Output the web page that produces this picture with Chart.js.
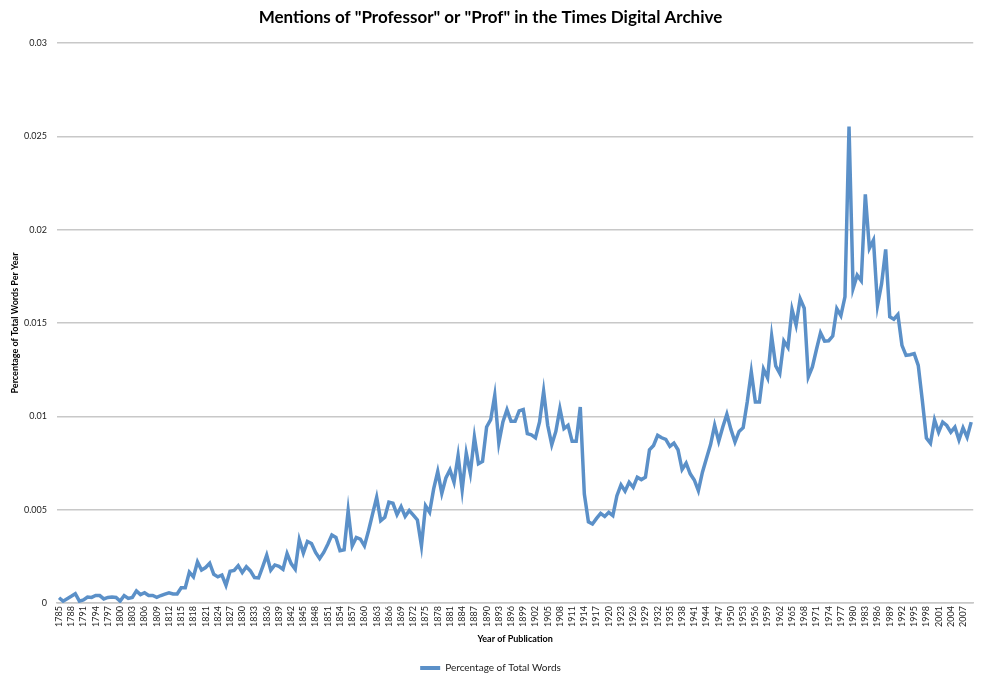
<!DOCTYPE html>
<html>
<head>
<meta charset="utf-8">
<script src="https://cdn.jsdelivr.net/npm/chart.js@4.4.1/dist/chart.umd.min.js"></script>
<style>
  html, body { margin: 0; padding: 0; background: #fff; }
  #wrap { width: 985px; height: 683px; }
</style>
</head>
<body>
<div id="wrap"><canvas id="profChart" width="985" height="683"></canvas></div>
<script>
// Year range of the archive series
const firstYear = 1785;
const lastYear = 2009;
const years = [];
for (let y = firstYear; y <= lastYear; y++) years.push(String(y));

// Percentage of total words
const values1785to1834 = [
    0.00028, 0.0001, 0.00023, 0.00036, 0.0005, 0.0001, 0.00016, 0.00032, 0.0003, 0.0004,
    0.0004, 0.00022, 0.0003, 0.00032, 0.0003, 0.0001, 0.0004, 0.00025, 0.0003, 0.00065,
    0.00045, 0.00055, 0.0004, 0.0004, 0.0003, 0.0004, 0.00048, 0.00055, 0.00048, 0.00048,
    0.00082, 0.00082, 0.00165, 0.0014, 0.0022, 0.00177, 0.0019, 0.00213, 0.00154, 0.0014,
    0.0015, 0.00095, 0.0017, 0.00175, 0.002, 0.00163, 0.00194, 0.00172, 0.00136, 0.00134
];
const values1835to1884 = [
    0.00194, 0.00256, 0.00176, 0.00204, 0.00197, 0.00181, 0.00265, 0.00211, 0.00181, 0.00339,
    0.00267, 0.0033, 0.00319, 0.00271, 0.00238, 0.00271, 0.00315, 0.00364, 0.00351, 0.0028,
    0.00285, 0.00495, 0.00306, 0.00351, 0.00342, 0.00306, 0.00387, 0.00477, 0.00566, 0.00441,
    0.00459, 0.0054, 0.00534, 0.00473, 0.00516, 0.00464, 0.00495, 0.00471, 0.00445, 0.00306,
    0.00521, 0.00486, 0.00611, 0.00704, 0.00588, 0.0067, 0.00713, 0.00647, 0.0079, 0.00606
];
const values1885to1934 = [
    0.00803, 0.00695, 0.00889, 0.00746, 0.00758, 0.00943, 0.00982, 0.01113, 0.00857, 0.0097,
    0.01036, 0.00973, 0.00973, 0.01029, 0.01036, 0.00907, 0.00901, 0.00885, 0.0097, 0.01134,
    0.00952, 0.00848, 0.00919, 0.01041, 0.00934, 0.00952, 0.00866, 0.00866, 0.0105, 0.00584,
    0.00435, 0.00423, 0.00453, 0.0048, 0.00464, 0.00486, 0.00468, 0.00575, 0.00633, 0.00599,
    0.00647, 0.0062, 0.00674, 0.00661, 0.00674, 0.00821, 0.00844, 0.00898, 0.00885, 0.00876
];
const values1935to1984 = [
    0.00839, 0.00857, 0.00821, 0.00715, 0.00749, 0.00692, 0.00659, 0.00602, 0.00701, 0.00776,
    0.00849, 0.00952, 0.00866, 0.00943, 0.01011, 0.0093, 0.00862, 0.00919, 0.00939, 0.01077,
    0.01238, 0.01077, 0.01077, 0.01253, 0.01206, 0.0143, 0.0127, 0.0123, 0.01403, 0.01369,
    0.01573, 0.01489, 0.0163, 0.01579, 0.01211, 0.01265, 0.01358, 0.01447, 0.01403, 0.01405,
    0.0143, 0.01577, 0.01539, 0.0164, 0.02553, 0.01685, 0.01756, 0.01726, 0.02189, 0.019
];
const values1985to2009 = [
    0.01944, 0.01595, 0.01711, 0.01894, 0.01533, 0.0152, 0.01545, 0.0138, 0.01327, 0.0133,
    0.01336, 0.01273, 0.01085, 0.00884, 0.00856, 0.00981, 0.00915, 0.00969, 0.00951, 0.00915,
    0.00942, 0.00874, 0.00938, 0.00888, 0.00969
];

// Y axis tick values
const yTicks = [0, 0.005, 0.01, 0.015, 0.02, 0.025, 0.03];

const seriesName = 'Percentage of Total Words';
const lineBlue = '#5b90c8';
const gridGrey = '#c8c8c8';
const font = 'Lato, "Open Sans", sans-serif';

const values = [].concat(values1785to1834, values1835to1884, values1885to1934,
    values1935to1984, values1985to2009);

const ctx = document.getElementById('profChart').getContext('2d');
new Chart(ctx, {
    type: 'line',
    data: {
        labels: years,
        datasets: [{
            label: seriesName,
            data: values,
            borderColor: lineBlue,
            backgroundColor: lineBlue,
            borderWidth: 3.5,
            pointRadius: 0,
            tension: 0,
            fill: false
        }]
    },
    options: {
        responsive: false,
        animation: false,
        layout: { padding: { left: 0, right: 4, top: 0, bottom: 0 } },
        plugins: {
            title: {
                display: true,
                text: 'Mentions of "Professor" or "Prof" in the Times Digital Archive',
                color: '#000',
                font: { family: font, size: 17, weight: 'bold' },
                padding: { top: 7, bottom: 15.6 }
            },
            legend: {
                position: 'bottom',
                labels: {
                    color: '#222',
                    font: { family: font, size: 10 },
                    boxWidth: 20,
                    boxHeight: 4,
                    padding: 10,
                    generateLabels: function(chart) {
                        const items = Chart.defaults.plugins.legend.labels.generateLabels(chart);
                        items.forEach(item => { item.lineWidth = 0; item.fillStyle = lineBlue; });
                        return items;
                    }
                }
            },
            tooltip: { enabled: false }
        },
        scales: {
            x: {
                offset: true,
                afterFit: function(scale) { scale.height = 50; },
                grid: { display: false, drawTicks: false },
                border: { display: true, color: gridGrey, width: 1.5 },
                ticks: {
                    autoSkip: false,
                    minRotation: 90,
                    maxRotation: 90,
                    padding: 3,
                    color: '#222',
                    font: { family: font, size: 9 },
                    callback: function(value, index) {
                        return index % 3 === 0 ? this.getLabelForValue(value) : '';
                    }
                },
                title: {
                    display: true,
                    text: 'Year of Publication',
                    color: '#000',
                    font: { family: font, size: 9, weight: 'bold' },
                    padding: { top: 0, bottom: 8.6 }
                }
            },
            y: {
                min: 0,
                max: 0.03,
                afterFit: function(scale) { scale.width = 57; },
                afterBuildTicks: function(scale) {
                    scale.ticks = yTicks.map(v => ({ value: v }));
                },
                grid: { color: gridGrey, lineWidth: 1.5, drawTicks: false },
                border: { display: false },
                ticks: {
                    padding: 10,
                    color: '#222',
                    font: { family: font, size: 9 },
                    callback: v => String(+v.toFixed(3))
                },
                title: {
                    display: true,
                    text: 'Percentage of Total Words Per Year',
                    color: '#000',
                    font: { family: font, size: 9, weight: 'bold' },
                    padding: { top: 10, bottom: 0 }
                }
            }
        }
    }
});
</script>
</body>
</html>
